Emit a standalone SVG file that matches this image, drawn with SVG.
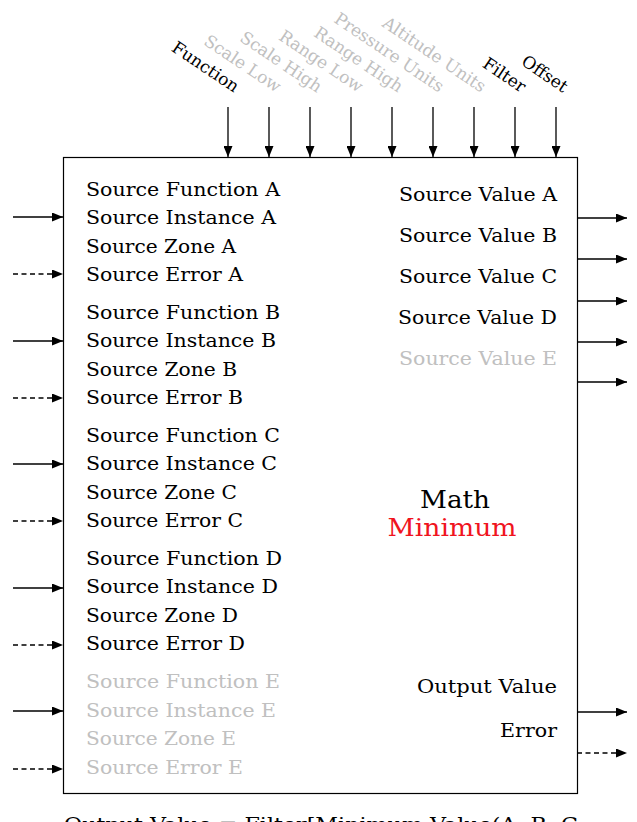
<svg xmlns="http://www.w3.org/2000/svg" width="637" height="822" viewBox="0 0 637 822">
<style>
text{font-family:"DejaVu Serif","Liberation Serif",serif;font-size:19px;fill:#000}
.g{fill:#c0c0c0}
.top{font-size:17px;text-anchor:end}
.r{text-anchor:end}
.big{font-size:24px;text-anchor:middle}
.red{fill:#f0141e}
.ln{stroke:#000;stroke-width:1.3;fill:none}
.d{stroke-dasharray:5 3.5}
</style>
<defs>
<marker id="ah" markerWidth="11" markerHeight="9" refX="11" refY="4.5" orient="auto" markerUnits="userSpaceOnUse">
<path d="M0,0 L11,4.5 L0,9 Z" fill="#000"/>
</marker>
</defs>
<rect width="637" height="822" fill="#fff"/>
<g id="block">
<rect x="63.5" y="157.5" width="514" height="636" fill="#fff" stroke="#000" stroke-width="1.2"/>
<text class="big" x="455" y="508" textLength="70" lengthAdjust="spacingAndGlyphs">Math</text>
<text class="big red" x="452" y="536" textLength="129" lengthAdjust="spacingAndGlyphs">Minimum</text>
</g>
<g id="inputs-left">
<text x="86" y="195.5" textLength="194" lengthAdjust="spacingAndGlyphs">Source Function A</text>
<text x="86" y="224" textLength="190" lengthAdjust="spacingAndGlyphs">Source Instance A</text>
<text x="86" y="252.5" textLength="150" lengthAdjust="spacingAndGlyphs">Source Zone A</text>
<text x="86" y="281" textLength="157" lengthAdjust="spacingAndGlyphs">Source Error A</text>
<text x="86" y="318.5" textLength="194" lengthAdjust="spacingAndGlyphs">Source Function B</text>
<text x="86" y="347" textLength="190" lengthAdjust="spacingAndGlyphs">Source Instance B</text>
<text x="86" y="375.5" textLength="151" lengthAdjust="spacingAndGlyphs">Source Zone B</text>
<text x="86" y="404" textLength="157" lengthAdjust="spacingAndGlyphs">Source Error B</text>
<text x="86" y="441.5" textLength="194" lengthAdjust="spacingAndGlyphs">Source Function C</text>
<text x="86" y="470" textLength="191" lengthAdjust="spacingAndGlyphs">Source Instance C</text>
<text x="86" y="498.5" textLength="151" lengthAdjust="spacingAndGlyphs">Source Zone C</text>
<text x="86" y="527" textLength="157" lengthAdjust="spacingAndGlyphs">Source Error C</text>
<text x="86" y="564.5" textLength="196" lengthAdjust="spacingAndGlyphs">Source Function D</text>
<text x="86" y="593" textLength="192" lengthAdjust="spacingAndGlyphs">Source Instance D</text>
<text x="86" y="621.5" textLength="152" lengthAdjust="spacingAndGlyphs">Source Zone D</text>
<text x="86" y="650" textLength="159" lengthAdjust="spacingAndGlyphs">Source Error D</text>
<text class="g" x="86" y="688" textLength="194" lengthAdjust="spacingAndGlyphs">Source Function E</text>
<text class="g" x="86" y="716.5" textLength="190" lengthAdjust="spacingAndGlyphs">Source Instance E</text>
<text class="g" x="86" y="745" textLength="150" lengthAdjust="spacingAndGlyphs">Source Zone E</text>
<text class="g" x="86" y="773.5" textLength="157" lengthAdjust="spacingAndGlyphs">Source Error E</text>
</g>
<g id="outputs-right">
<text class="r" x="557" y="201" textLength="158" lengthAdjust="spacingAndGlyphs">Source Value A</text>
<text class="r" x="557" y="242" textLength="158" lengthAdjust="spacingAndGlyphs">Source Value B</text>
<text class="r" x="557" y="283" textLength="158" lengthAdjust="spacingAndGlyphs">Source Value C</text>
<text class="r" x="557" y="324" textLength="159" lengthAdjust="spacingAndGlyphs">Source Value D</text>
<text class="r g" x="557" y="365" textLength="158" lengthAdjust="spacingAndGlyphs">Source Value E</text>
<text class="r" x="557" y="693" textLength="140" lengthAdjust="spacingAndGlyphs">Output Value</text>
<text class="r" x="557" y="737" textLength="57" lengthAdjust="spacingAndGlyphs">Error</text>
</g>
<g id="inputs-top">
<text class="top" transform="translate(234,93) rotate(34)">Function</text>
<text class="top g" transform="translate(276,93) rotate(34)">Scale Low</text>
<text class="top g" transform="translate(317,93) rotate(34)">Scale High</text>
<text class="top g" transform="translate(358,93) rotate(34)">Range Low</text>
<text class="top g" transform="translate(398,93) rotate(34)">Range High</text>
<text class="top g" transform="translate(439,93) rotate(34)">Pressure Units</text>
<text class="top g" transform="translate(481,93) rotate(34)">Altitude Units</text>
<text class="top" transform="translate(521,93) rotate(34)">Filter</text>
<text class="top" transform="translate(563,93) rotate(34)">Offset</text>
</g>
<g id="connectors">
<path class="ln" marker-end="url(#ah)" d="M228,107V157"/>
<path class="ln" marker-end="url(#ah)" d="M269,107V157"/>
<path class="ln" marker-end="url(#ah)" d="M310,107V157"/>
<path class="ln" marker-end="url(#ah)" d="M351,107V157"/>
<path class="ln" marker-end="url(#ah)" d="M392,107V157"/>
<path class="ln" marker-end="url(#ah)" d="M433,107V157"/>
<path class="ln" marker-end="url(#ah)" d="M474,107V157"/>
<path class="ln" marker-end="url(#ah)" d="M515,107V157"/>
<path class="ln" marker-end="url(#ah)" d="M556,107V157"/>
<path class="ln" marker-end="url(#ah)" d="M13,217H63"/>
<path class="ln d" marker-end="url(#ah)" d="M13,274H63"/>
<path class="ln" marker-end="url(#ah)" d="M13,341H63"/>
<path class="ln d" marker-end="url(#ah)" d="M13,398H63"/>
<path class="ln" marker-end="url(#ah)" d="M13,464H63"/>
<path class="ln d" marker-end="url(#ah)" d="M13,521H63"/>
<path class="ln" marker-end="url(#ah)" d="M13,588H63"/>
<path class="ln d" marker-end="url(#ah)" d="M13,645H63"/>
<path class="ln" marker-end="url(#ah)" d="M13,711H63"/>
<path class="ln d" marker-end="url(#ah)" d="M13,769H63"/>
<path class="ln" marker-end="url(#ah)" d="M577,218H627"/>
<path class="ln" marker-end="url(#ah)" d="M577,259H627"/>
<path class="ln" marker-end="url(#ah)" d="M577,301H627"/>
<path class="ln" marker-end="url(#ah)" d="M577,342H627"/>
<path class="ln" marker-end="url(#ah)" d="M577,382H627"/>
<path class="ln" marker-end="url(#ah)" d="M577,712H627"/>
<path class="ln d" marker-end="url(#ah)" d="M577,753H627"/>
</g>
<text id="formula" x="64" y="831" textLength="514" lengthAdjust="spacingAndGlyphs">Output Value = Filter[Minimum Value(A, B, C</text>
</svg>
